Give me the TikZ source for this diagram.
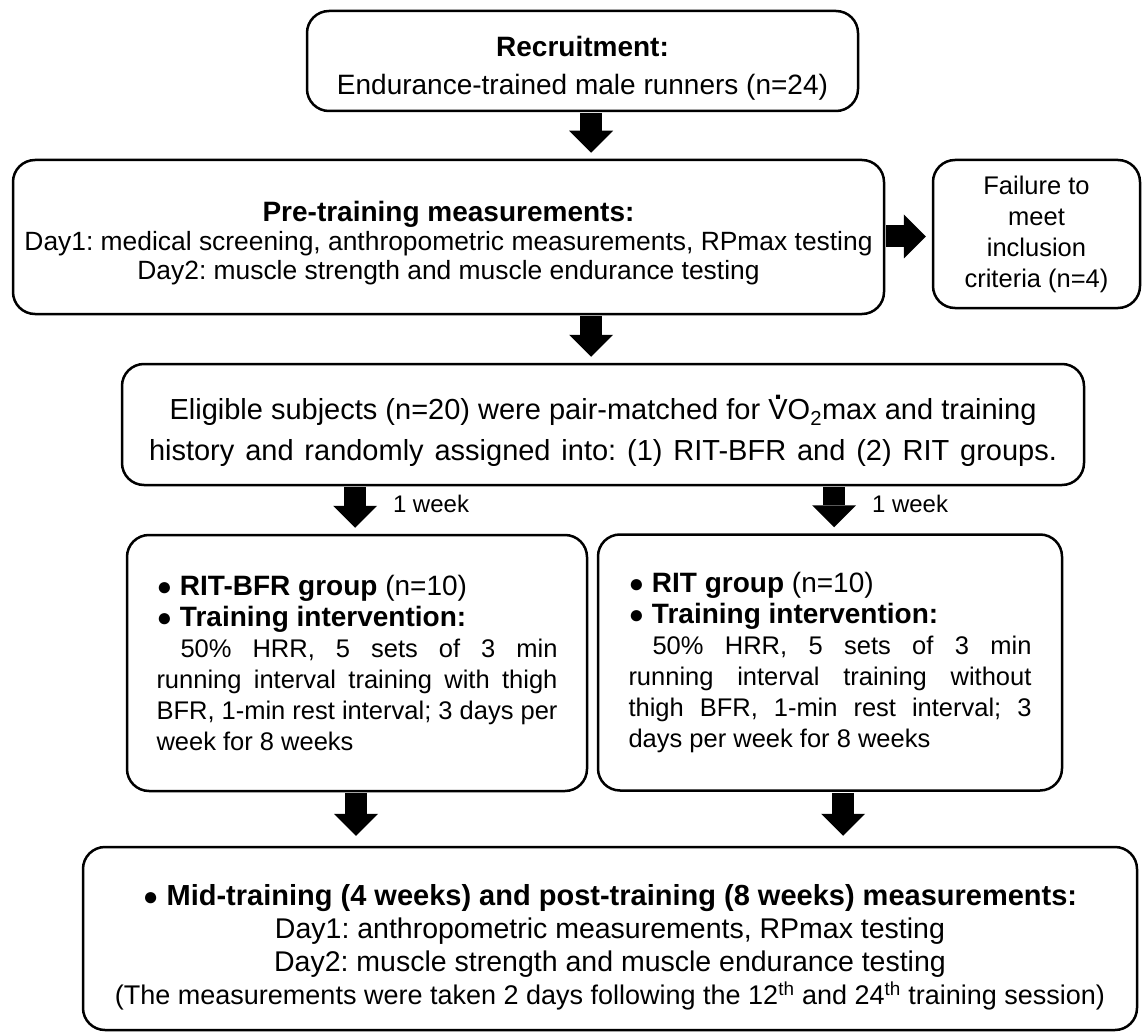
\documentclass[tikz,border=0pt]{standalone}
\usepackage{fontspec}
\setmainfont{Liberation Sans}
\frenchspacing
\usetikzlibrary{arrows.meta, positioning}
\newcommand{\vdotV}{\rlap{\hspace{0.2em}\raisebox{0.72em}{\textbf{.}}}V}
\newcommand{\bul}{{\fontsize{26}{26}\selectfont●}\ }
\newcommand{\topgap}[1]{\rule{0pt}{#1}}
\tikzset{
   roundbox/.style={
     draw=black, line width=2.5pt, rounded corners=22pt,
     align=center, inner sep=0pt
   },
   groupbox/.style={
      roundbox,
      minimum height=256pt, align=justify,
      font=\fontsize{25.5}{31}\selectfont
   },
   fatarrow/.style={
      line width=22pt, -{Triangle[length=22pt,width=44pt,line width=0pt]},
      shorten >=6pt, shorten <=1pt
   },
   weeklabel/.style={right=27pt, yshift=6pt, inner sep=0pt, font=\fontsize{24}{28}\selectfont}
}

\begin{document}
\begin{tikzpicture}[x=1pt, y=-1pt]
  \useasboundingbox (0,0) rectangle (1146,1035);
  % boxes
  \node[roundbox, minimum width=551pt, minimum height=100pt, font=\fontsize{28}{38}\selectfont]
     (recruit) at (582.5,61) {\topgap{34pt}\textbf{Recruitment:}\\Endurance-trained male runners (n=24)};
  \node[roundbox, minimum width=871pt, minimum height=154pt, font=\fontsize{26.4}{29}\selectfont]
     (pretest) at (448.5,237) {\topgap{32pt}{\fontsize{28}{29}\selectfont\textbf{Pre-training measurements:}}\\
       Day1: medical screening, anthropometric measurements, RPmax testing\\
       Day2: muscle strength and muscle endurance testing};
  \node[roundbox, minimum width=207pt, minimum height=148pt, font=\fontsize{25.5}{31}\selectfont]
     (failure) at (1036.5,234) {Failure to\\meet\\inclusion\\criteria (n=4)};
  \node[roundbox, minimum width=962pt, minimum height=121pt, font=\fontsize{29}{41}\selectfont]
     (eligible) at (603,424.5) {\topgap{38pt}Eligible subjects (n=20) were pair-matched for \vdotV O\textsubscript{2}max and training\\
       \makebox[908pt][s]{history and randomly assigned into: (1) RIT-BFR and (2) RIT groups.}};
  \node[groupbox, minimum width=460pt, text width=401pt] (ritbfr) at (357,663) {%
     {\fontsize{28}{31}\selectfont
     \noindent\bul\textbf{RIT-BFR group} (n=10)\par
     \noindent\bul\textbf{Training intervention:}\par}
     \noindent\hspace*{24pt}50\% HRR, 5 sets of 3 min\linebreak
     running interval training with thigh\linebreak
     BFR, 1-min rest interval; 3 days per\linebreak
     week for 8 weeks};
  \node[groupbox, minimum width=464pt, text width=403pt] (rit) at (830,662.5) {%
     {\fontsize{28}{31}\selectfont
     \noindent\bul\textbf{RIT group} (n=10)\par
     \noindent\bul\textbf{Training intervention:}\par}
     \noindent\hspace*{24pt}50\% HRR, 5 sets of 3 min\linebreak
     running interval training without\linebreak
     thigh BFR, 1-min rest interval; 3\linebreak
     days per week for 8 weeks};
  \node[roundbox, minimum width=1054pt, minimum height=183pt, font=\fontsize{28.5}{33}\selectfont]
     (posttest) at (610,938.5) {\topgap{39pt}{\fontsize{29}{33}\selectfont\bul\textbf{Mid-training (4 weeks) and post-training (8 weeks) measurements:}}\\
       Day1: anthropometric measurements, RPmax testing\\
       Day2: muscle strength and muscle endurance testing\\
       {\fontsize{27}{33}\selectfont(The measurements were taken 2 days following the 12\textsuperscript{th} and 24\textsuperscript{th} training session)}};
  % arrow columns
  \coordinate (main) at (591,0);
  \coordinate (left) at (355,0);
  \coordinate (right) at (834,0);
  \coordinate (leftlow) at (356,0);
  \coordinate (rightlow) at (843,0);
  \coordinate (side) at (0,236.5);
  % arrows
  \draw[fatarrow] (recruit.south -| main) -- (pretest.north -| main);
  \draw[fatarrow] (pretest.south -| main) -- (eligible.north -| main);
  \draw[fatarrow] (pretest.east |- side) -- (failure.west |- side);
  \draw[fatarrow] (eligible.south -| left) -- node[weeklabel]{1 week} (ritbfr.north -| left);
  \draw[fatarrow] (eligible.south -| right) -- node[weeklabel]{1 week} (rit.north -| right);
  \draw[fatarrow, shorten >=10pt] (ritbfr.south -| leftlow) -- (posttest.north -| leftlow);
  \draw[fatarrow, shorten >=10pt] (rit.south -| rightlow) -- (posttest.north -| rightlow);
\end{tikzpicture}
\end{document}
